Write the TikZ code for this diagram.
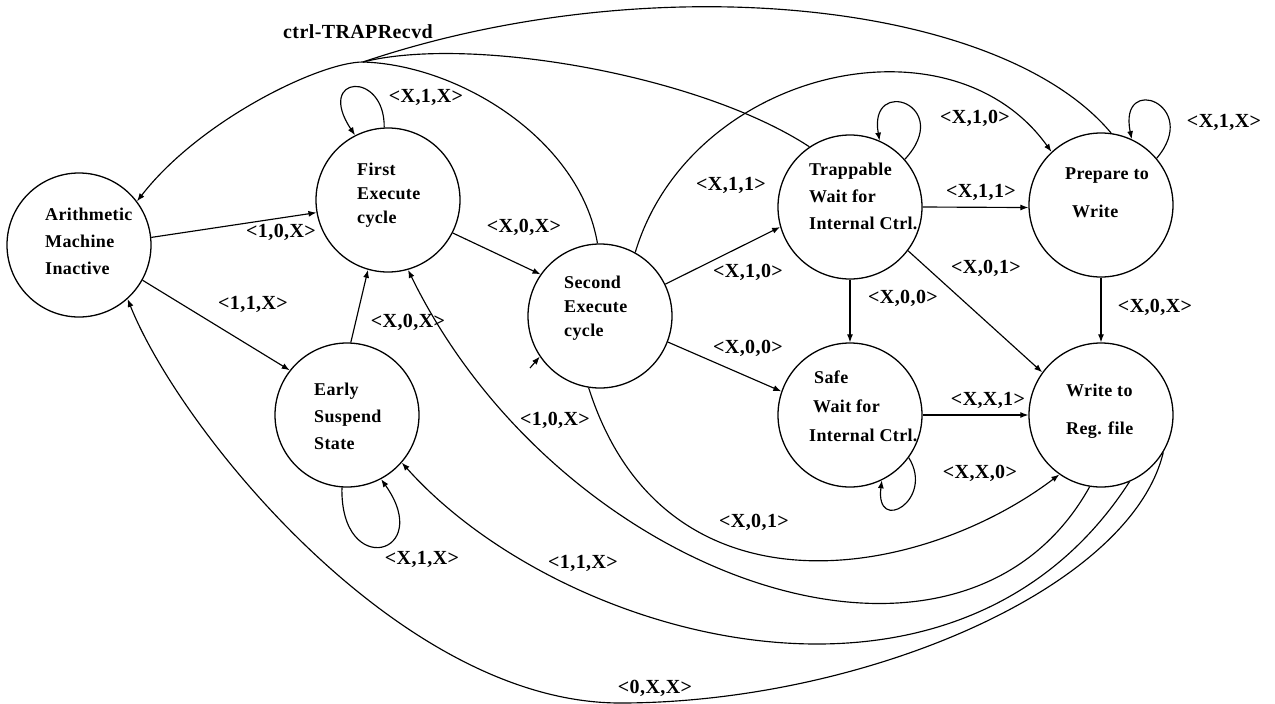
\documentclass[tikz,border=0pt]{standalone}
\usepackage{fontspec}
\setmainfont{Liberation Serif}[LetterSpace=2]
\usetikzlibrary{arrows.meta}
\begin{document}
\begin{tikzpicture}[x=1pt,y=-1pt,
  state/.style={circle,draw,line width=1.3pt,minimum size=144pt,inner sep=0pt},
  stxt/.style={align=left,anchor=west,inner sep=0pt,font=\bfseries\fontsize{18}{27}\selectfont},
  lbl/.style={inner sep=0pt,font=\bfseries\fontsize{20}{22}\selectfont},
  edge/.style={line width=1.15pt,-{Latex[length=8pt,width=6pt]}},
  plain/.style={line width=1.15pt}]
\useasboundingbox (0,0) rectangle (1275,704);

% states
\node[state] (A) at (79,245) {};
\node[state] (B) at (388,200) {};
\node[state] (C) at (600,316) {};
\node[state] (E) at (347,415) {};
\node[state] (T) at (850,207) {};
\node[state] (P) at (1101,205) {};
\node[state] (S) at (850,415) {};
\node[state] (W) at (1101,415) {};

% state names
\node[stxt] (At) at (45,241) {Arithmetic\\Machine\\Inactive};
\node[stxt,font=\bfseries\fontsize{18}{24}\selectfont] (Bt) at (357,195) {First\\Execute\\cycle};
\node[stxt,font=\bfseries\fontsize{18}{24}\selectfont] (Ct) at (564,308) {Second\\Execute\\cycle};
\node[stxt] (Et) at (314,416) {Early\\Suspend\\State};
\node[stxt] (Tt) at (809,196) {Trappable\\Wait for\\Internal Ctrl.};
\node[stxt,font=\bfseries\fontsize{18}{29}\selectfont] (St) at (809,406) {\hspace{5pt}Safe\\\hspace{4pt}Wait for\\Internal Ctrl.};
\node[stxt] (Pt) at (1065,193) {Prepare to\\[11pt]\hspace{7pt}Write};
\node[stxt] (Wt) at (1066,411) {Write to\\[11pt]Reg. file};

% straight transitions
\draw[edge] (A.6) -- (B.190);
\draw[edge] (A.-29) -- (E.142);
\draw[edge] (E.87) -- (B.-106);
\draw[edge] (B.-27) -- (C.145);
\draw[edge] (C.26) -- (T.196);
\draw[edge] (C.-21) -- (S.161);
\draw[edge] (T.0) -- (P.182);
\draw[edge] (T.-90) -- (S.90);
\draw[edge] (T.-37) -- (W.144);
\draw[edge] (P.-90) -- (W.90);
\draw[edge] (S.0) -- (W.180);
\coordinate (cs) at (530,368);
\draw[edge] (cs) -- (C.214);

% trap return: three branches joining into one arrow
\coordinate (apex) at (363,62);
\draw[edge] (apex) .. controls (320,62) and (200,120) .. (A.37);
\draw[plain] (C.92) .. controls (580,140) and (460,65) .. (apex);
\draw[plain] (T.124) .. controls (700,75) and (470,35) .. (apex);
\draw[plain] (P.82) .. controls (1000,0) and (650,-35) .. (apex);

% second execute to prepare
\draw[edge] (C.61) .. controls (690,70) and (950,10) .. (P.133);

% self loops
\draw[edge] (B.93) .. controls (385,70) and (315,75) .. (B.117);
\draw[edge] (E.-94) .. controls (340,580) and (435,555) .. (E.-62);
\draw[edge] (T.41) .. controls (955,105) and (868,75) .. (T.66);
\draw[edge] (P.40) .. controls (1202,105) and (1118,72) .. (P.65);
\draw[edge] (S.-36) .. controls (935,500) and (875,535) .. (S.-64);

% long arcs under the states
\coordinate (bot) at (620,703);
\draw[edge] (C.-99) .. controls (664,625) and (920,580) .. (W.-125);
\draw[edge] (W.-99) .. controls (960,720) and (560,580) .. (B.-74);
\draw[edge] (W.-67) .. controls (955,752) and (560,640) .. (E.-41);
\draw[edge] (W.-31) .. controls (1130,590) and (860,703) .. (bot)
  .. controls (400,703) and (180,430) .. (A.-48);

% transition labels
\node[lbl] (l0) at (358,32) {ctrl-TRAPRecvd};
\node[lbl] (l1) at (426,97) {<X,1,X>};
\node[lbl] (l2) at (281,232) {<1,0,X>};
\node[lbl] (l3) at (524,227) {<X,0,X>};
\node[lbl] (l4) at (253,304) {<1,1,X>};
\node[lbl] (l5) at (408,322) {<X,0,X>};
\node[lbl] (l6) at (731,185) {<X,1,1>};
\node[lbl] (l7) at (975,118) {<X,1,0>};
\node[lbl] (l8) at (981,192) {<X,1,1>};
\node[lbl] (l9) at (1224,122) {<X,1,X>};
\node[lbl] (l10) at (748,272) {<X,1,0>};
\node[lbl] (l11) at (986,268) {<X,0,1>};
\node[lbl] (l12) at (903,298) {<X,0,0>};
\node[lbl] (l13) at (1155,307) {<X,0,X>};
\node[lbl] (l14) at (748,348) {<X,0,0>};
\node[lbl] (l15) at (988,400) {<X,X,1>};
\node[lbl] (l16) at (980,473) {<X,X,0>};
\node[lbl] (l17) at (754,522) {<X,0,1>};
\node[lbl] (l18) at (555,420) {<1,0,X>};
\node[lbl] (l19) at (422,559) {<X,1,X>};
\node[lbl] (l20) at (583,563) {<1,1,X>};
\node[lbl] (l21) at (655,688) {<0,X,X>};
\end{tikzpicture}
\end{document}
